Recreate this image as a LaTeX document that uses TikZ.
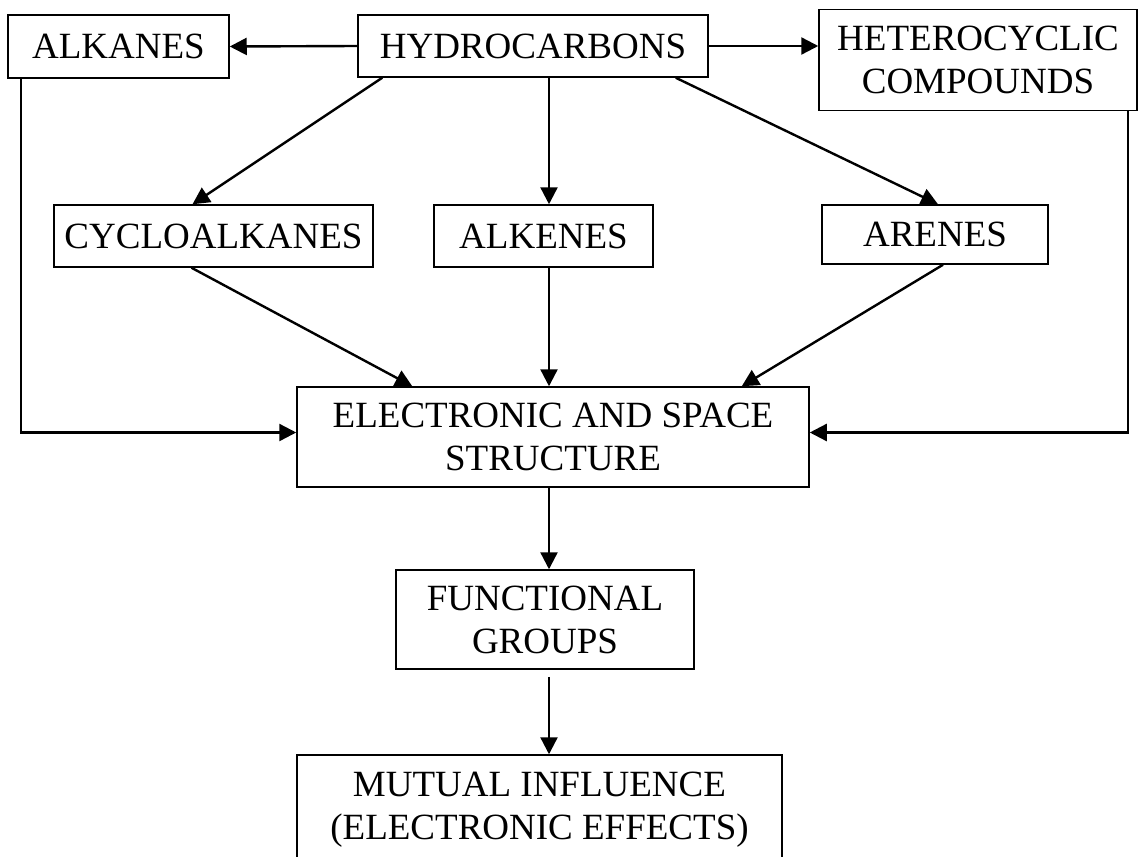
\documentclass[tikz,border=0pt]{standalone}
\usepackage{fontspec}
\setmainfont{Liberation Serif}
\usetikzlibrary{arrows.meta,calc}

\begin{document}
\begin{tikzpicture}[x=0.5pt,y=-0.5pt,
  box/.style={draw,line width=0.75pt,align=center,inner sep=0pt,font=\fontsize{18.5}{21.5}\selectfont},
  arr/.style={line width=1.2pt,-{Triangle[length=8.5pt,width=8.5pt]}}]
\useasboundingbox (0,0) rectangle (1138,856);

% Top row
\node[box,minimum width=110.5pt,minimum height=31.5pt] (alkanes) at (118.5,46.5) {ALKANES};
\node[box,minimum width=175pt,minimum height=31pt] (hydro) at (533,46) {HYDROCARBONS};
\node[box,minimum width=159pt,minimum height=50.5pt] (hetero) at (978,60) {HETEROCYCLIC\\COMPOUNDS};

% Second row
\node[box,minimum width=159.5pt,minimum height=31pt] (cyclo) at (213.5,236) {CYCLOALKANES};
\node[box,minimum width=109.5pt,minimum height=31pt] (alkenes) at (543.5,236) {ALKENES};
\node[box,minimum width=113pt,minimum height=29.5pt] (arenes) at (935,234.5) {ARENES};

% Structure
\node[box,minimum width=256pt,minimum height=50pt] (elec) at (553,437) {ELECTRONIC AND SPACE\\STRUCTURE};

% Functional groups
\node[box,minimum width=149pt,minimum height=49.5pt] (func) at (545,619.5) {FUNCTIONAL\\GROUPS};

% Mutual influence
\node[box,minimum width=242.5pt,minimum height=55pt] (mutual) at (539.5,810) {MUTUAL INFLUENCE\\(ELECTRONIC EFFECTS)};

% Arrows from hydrocarbons
\draw[arr] (hydro.west) -- (alkanes.east);
\draw[arr] (hydro.east) -- (hydro.east -| hetero.west);
\draw[arr] ($(hydro.south west)+(25,0)$) -- ($(cyclo.north)+(-21,0)$);
\draw[arr] ($(hydro.south)+(16,0)$) -- ($(alkenes.north)+(5.5,0)$);
\draw[arr] ($(hydro.south east)+(-33,0)$) -- ($(arenes.north)+(3,0)$);

% Arrows to structure
\draw[arr] ($(cyclo.south)+(-22,0)$) -- ($(elec.north west)+(116,0)$);
\draw[arr] ($(alkenes.south)+(5.5,0)$) -- ($(elec.north)+(-4,0)$);
\draw[arr] ($(arenes.south)+(8,0)$) -- ($(elec.north east)+(-68,0)$);
\draw[arr] ($(alkanes.south west)+(14,0)$) |- ($(elec.west)+(0,-4.5)$);
\draw[arr] ($(hetero.south east)+(-10,0)$) |- ($(elec.east)+(0,-4.5)$);

% Down the chain
\draw[arr] ($(elec.south)+(-4,0)$) -- ($(func.north)+(4,0)$);
\draw[arr] ($(func.south)+(4,7)$) -- ($(mutual.north)+(9.5,0)$);
\end{tikzpicture}
\end{document}
